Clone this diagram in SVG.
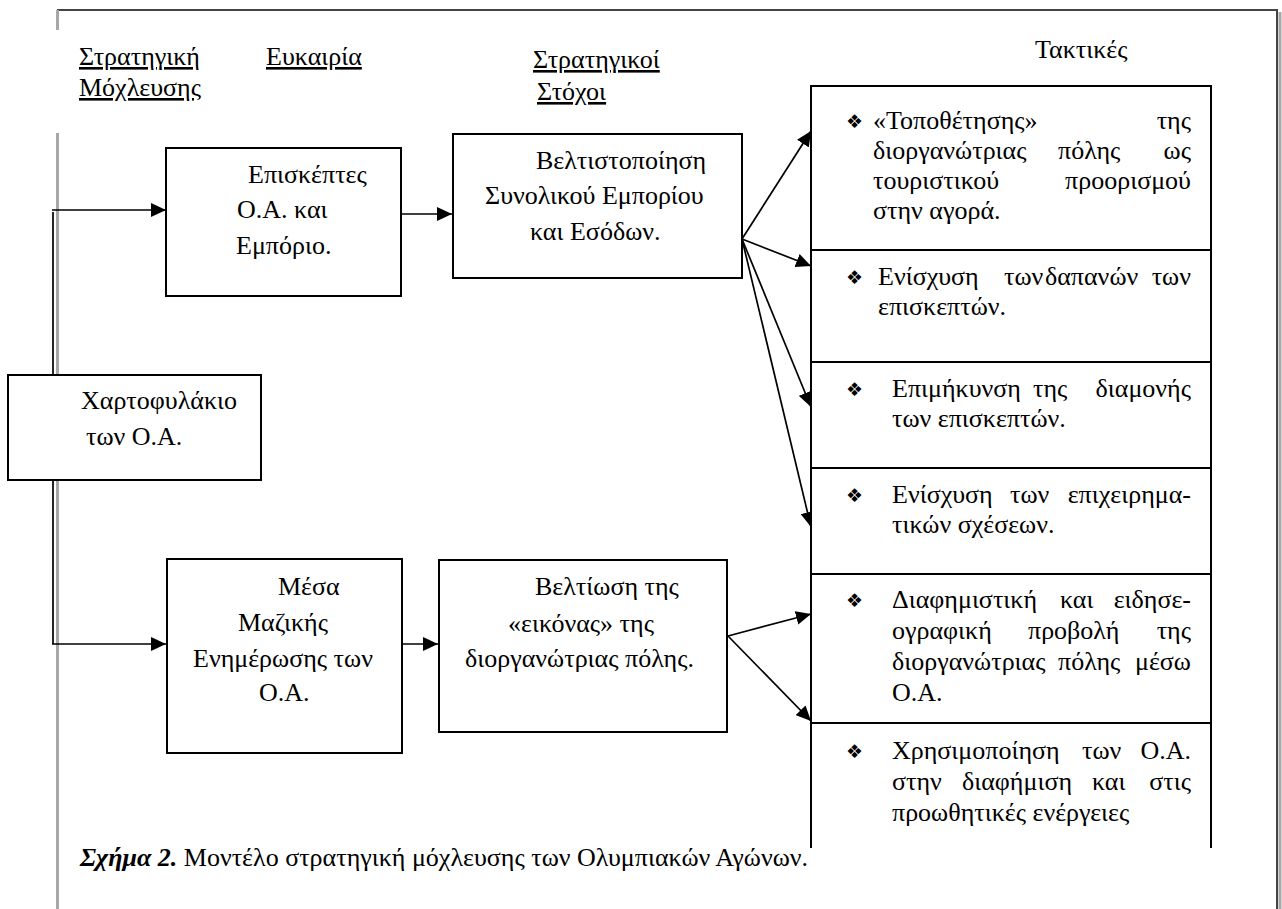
<svg xmlns="http://www.w3.org/2000/svg" width="1282" height="909" viewBox="0 0 1282 909">
<defs>
<marker id="ah" markerUnits="userSpaceOnUse" markerWidth="16" markerHeight="14" refX="15" refY="7" orient="auto">
<path d="M0,0 L15,7 L0,14 z" fill="#000"/>
</marker>
</defs>
<rect x="0" y="0" width="1282" height="909" fill="#fff"/>
<g id="frame" fill="none">
<path d="M57,10 H1277 V909" stroke="#444" stroke-width="2"/>
<path d="M1280,12 V909" stroke="#a8a8a8" stroke-width="3"/>
<path d="M57.5,10 V30 M57.5,133 V909" stroke="#a8a8a8" stroke-width="3"/>
</g>
<g id="headers">
<text style="font-family:'Liberation Serif' !important;font-size:26px" text-decoration="underline" x="79" y="65">Στρατηγική</text>
<text style="font-family:'Liberation Serif' !important;font-size:26px" text-decoration="underline" x="79" y="96">Μόχλευσης</text>
<text style="font-family:'Liberation Serif' !important;font-size:26px" text-decoration="underline" x="266" y="65">Ευκαιρία</text>
<text style="font-family:'Liberation Serif' !important;font-size:26px" text-decoration="underline" x="533" y="68">Στρατηγικοί</text>
<text style="font-family:'Liberation Serif' !important;font-size:26px" text-decoration="underline" x="537" y="100">Στόχοι</text>
<text style="font-family:'Liberation Serif' !important;font-size:26px" x="1035" y="58">Τακτικές</text>
</g>
<g id="connectors" fill="none" stroke="#000" stroke-width="1.7">
<path d="M53,212 V375"/>
<path d="M53,480 V644"/>
<path d="M52,210 H166" marker-end="url(#ah)"/>
<path d="M52,644 H166" marker-end="url(#ah)"/>
<path d="M398,214 H452" marker-end="url(#ah)"/>
<path d="M402,644 H438" marker-end="url(#ah)"/>
<path d="M742,239 L811,131" marker-end="url(#ah)"/>
<path d="M742,239 L811,266" marker-end="url(#ah)"/>
<path d="M742,239 L811,407" marker-end="url(#ah)"/>
<path d="M742,239 L811,527" marker-end="url(#ah)"/>
<path d="M728,636 L811,614" marker-end="url(#ah)"/>
<path d="M728,636 L811,721" marker-end="url(#ah)"/>
</g>
<g id="node-portfolio">
<rect x="8" y="375" width="253" height="105" fill="#fff" stroke="#000" stroke-width="2"/>
<text style="font-family:'Liberation Serif' !important;font-size:26px" x="81" y="409">Χαρτοφυλάκιο</text>
<text style="font-family:'Liberation Serif' !important;font-size:26px" x="86" y="445">των Ο.Α.</text>
</g>
<g id="node-visitors">
<rect x="166" y="148" width="235" height="148" fill="#fff" stroke="#000" stroke-width="2"/>
<text style="font-family:'Liberation Serif' !important;font-size:26px" x="248" y="183">Επισκέπτες</text>
<text style="font-family:'Liberation Serif' !important;font-size:26px" x="237" y="218">Ο.Α. και</text>
<text style="font-family:'Liberation Serif' !important;font-size:26px" x="236" y="254">Εμπόριο.</text>
</g>
<g id="node-media">
<rect x="167" y="559" width="235" height="194" fill="#fff" stroke="#000" stroke-width="2"/>
<text style="font-family:'Liberation Serif' !important;font-size:26px" x="278" y="595">Μέσα</text>
<text style="font-family:'Liberation Serif' !important;font-size:26px" x="238" y="631">Μαζικής</text>
<text style="font-family:'Liberation Serif' !important;font-size:26px" x="193" y="667">Ενημέρωσης των</text>
<text style="font-family:'Liberation Serif' !important;font-size:26px" x="259" y="701">Ο.Α.</text>
</g>
<g id="node-optimize">
<rect x="453" y="134" width="289" height="144" fill="#fff" stroke="#000" stroke-width="2"/>
<text style="font-family:'Liberation Serif' !important;font-size:26px" x="536" y="169">Βελτιστοποίηση</text>
<text style="font-family:'Liberation Serif' !important;font-size:26px" x="485" y="204">Συνολικού Εμπορίου</text>
<text style="font-family:'Liberation Serif' !important;font-size:26px" x="530" y="240">και Εσόδων.</text>
</g>
<g id="node-image">
<rect x="439" y="560" width="288" height="172" fill="#fff" stroke="#000" stroke-width="2"/>
<text style="font-family:'Liberation Serif' !important;font-size:26px" x="535" y="595">Βελτίωση της</text>
<text style="font-family:'Liberation Serif' !important;font-size:26px" x="508" y="632">«εικόνας» της</text>
<text style="font-family:'Liberation Serif' !important;font-size:26px" x="465" y="667">διοργανώτριας πόλης.</text>
</g>
<g id="tactic-1">
<rect x="811" y="86" width="400" height="164" fill="#fff" stroke="#000" stroke-width="2"/>
<text style="font-family:'DejaVu Sans' !important;font-size:19px" x="846" y="128">❖</text>
<text style="font-family:'Liberation Serif' !important;font-size:26px" x="873" y="129">«Τοποθέτησης»</text>
<text style="font-family:'Liberation Serif' !important;font-size:26px" text-anchor="end" x="1191" y="129">της</text>
<text style="font-family:'Liberation Serif' !important;font-size:26px" x="873" y="159">διοργανώτριας</text>
<text style="font-family:'Liberation Serif' !important;font-size:26px" x="1058" y="159">πόλης</text>
<text style="font-family:'Liberation Serif' !important;font-size:26px" text-anchor="end" x="1191" y="159">ως</text>
<text style="font-family:'Liberation Serif' !important;font-size:26px" x="873" y="189">τουριστικού</text>
<text style="font-family:'Liberation Serif' !important;font-size:26px" text-anchor="end" x="1191" y="189">προορισμού</text>
<text style="font-family:'Liberation Serif' !important;font-size:26px" x="873" y="219">στην αγορά.</text>
</g>
<g id="tactic-2">
<rect x="811" y="250" width="400" height="112" fill="#fff" stroke="#000" stroke-width="2"/>
<text style="font-family:'DejaVu Sans' !important;font-size:19px" x="846" y="284">❖</text>
<text style="font-family:'Liberation Serif' !important;font-size:26px" x="878" y="285">Ενίσχυση</text>
<text style="font-family:'Liberation Serif' !important;font-size:26px" x="1004" y="285">των</text>
<text style="font-family:'Liberation Serif' !important;font-size:26px" x="1045" y="285">δαπανών</text>
<text style="font-family:'Liberation Serif' !important;font-size:26px" text-anchor="end" x="1191" y="285">των</text>
<text style="font-family:'Liberation Serif' !important;font-size:26px" x="878" y="315">επισκεπτών.</text>
</g>
<g id="tactic-3">
<rect x="811" y="362" width="400" height="106" fill="#fff" stroke="#000" stroke-width="2"/>
<text style="font-family:'DejaVu Sans' !important;font-size:19px" x="846" y="396">❖</text>
<text style="font-family:'Liberation Serif' !important;font-size:26px" x="892" y="397">Επιμήκυνση</text>
<text style="font-family:'Liberation Serif' !important;font-size:26px" x="1033" y="397">της</text>
<text style="font-family:'Liberation Serif' !important;font-size:26px" text-anchor="end" x="1191" y="397">διαμονής</text>
<text style="font-family:'Liberation Serif' !important;font-size:26px" x="892" y="427">των επισκεπτών.</text>
</g>
<g id="tactic-4">
<rect x="811" y="468" width="400" height="106" fill="#fff" stroke="#000" stroke-width="2"/>
<text style="font-family:'DejaVu Sans' !important;font-size:19px" x="846" y="502">❖</text>
<text style="font-family:'Liberation Serif' !important;font-size:26px" x="892" y="503">Ενίσχυση</text>
<text style="font-family:'Liberation Serif' !important;font-size:26px" x="1010" y="503">των</text>
<text style="font-family:'Liberation Serif' !important;font-size:26px" text-anchor="end" x="1191" y="503">επιχειρημα-</text>
<text style="font-family:'Liberation Serif' !important;font-size:26px" x="892" y="533">τικών σχέσεων.</text>
</g>
<g id="tactic-5">
<rect x="811" y="574" width="400" height="149" fill="#fff" stroke="#000" stroke-width="2"/>
<text style="font-family:'DejaVu Sans' !important;font-size:19px" x="846" y="607">❖</text>
<text style="font-family:'Liberation Serif' !important;font-size:26px" x="892" y="608">Διαφημιστική</text>
<text style="font-family:'Liberation Serif' !important;font-size:26px" x="1060" y="608">και</text>
<text style="font-family:'Liberation Serif' !important;font-size:26px" text-anchor="end" x="1191" y="608">ειδησε-</text>
<text style="font-family:'Liberation Serif' !important;font-size:26px" x="892" y="639">ογραφική</text>
<text style="font-family:'Liberation Serif' !important;font-size:26px" x="1028" y="639">προβολή</text>
<text style="font-family:'Liberation Serif' !important;font-size:26px" text-anchor="end" x="1191" y="639">της</text>
<text style="font-family:'Liberation Serif' !important;font-size:26px" x="892" y="670">διοργανώτριας</text>
<text style="font-family:'Liberation Serif' !important;font-size:26px" x="1058" y="670">πόλης</text>
<text style="font-family:'Liberation Serif' !important;font-size:26px" text-anchor="end" x="1191" y="670">μέσω</text>
<text style="font-family:'Liberation Serif' !important;font-size:26px" x="892" y="701">Ο.Α.</text>
</g>
<g id="tactic-6">
<path d="M811,848 V723 H1211 V848" fill="#fff" stroke="#000" stroke-width="2"/>
<text style="font-family:'DejaVu Sans' !important;font-size:19px" x="846" y="758">❖</text>
<text style="font-family:'Liberation Serif' !important;font-size:26px" x="892" y="759">Χρησιμοποίηση</text>
<text style="font-family:'Liberation Serif' !important;font-size:26px" x="1082" y="759">των</text>
<text style="font-family:'Liberation Serif' !important;font-size:26px" text-anchor="end" x="1191" y="759">Ο.Α.</text>
<text style="font-family:'Liberation Serif' !important;font-size:26px" x="892" y="790">στην</text>
<text style="font-family:'Liberation Serif' !important;font-size:26px" x="962" y="790">διαφήμιση</text>
<text style="font-family:'Liberation Serif' !important;font-size:26px" x="1092" y="790">και</text>
<text style="font-family:'Liberation Serif' !important;font-size:26px" text-anchor="end" x="1191" y="790">στις</text>
<text style="font-family:'Liberation Serif' !important;font-size:26px" x="892" y="821">προωθητικές ενέργειες</text>
</g>
<g id="caption">
<text style="font-family:'Liberation Serif' !important;font-size:26px" x="80" y="866"><tspan font-weight="bold" font-style="italic">Σχήμα 2.</tspan>  Μοντέλο στρατηγική μόχλευσης  των Ολυμπιακών Αγώνων.</text>
</g>
</svg>
